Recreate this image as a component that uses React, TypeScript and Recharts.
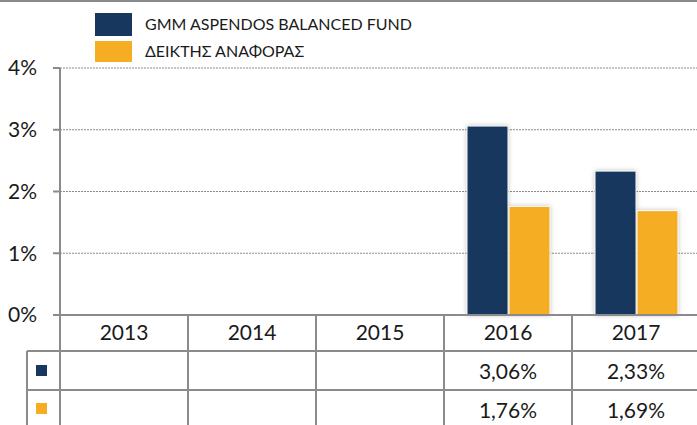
import React from 'react';
import { BarChart, Bar, XAxis, YAxis, CartesianGrid } from 'recharts';

const categories = ['2013', '2014', '2015', '2016', '2017'];
const fundValues: (number | null)[] = [null, null, null, 3.06, 2.33];
const benchmarkValues: (number | null)[] = [null, null, null, 1.76, 1.69];
const yTicks = [0, 1, 2, 3, 4];
const seriesNames = ['GMM ASPENDOS BALANCED FUND', 'ΔΕΙΚΤΗΣ ΑΝΑΦΟΡΑΣ'];
const seriesColors = ['#17375E', '#F5AD23'];

const data = categories.map((year, i) => ({
  year,
  fund: fundValues[i],
  bench: benchmarkValues[i],
}));

const W = 700;
const H = 425;
const LEFT = 60;
const TOP = 68;
const XAXIS_H = 110;
const PLOT_BOTTOM = H - XAXIS_H;
const BAND = (W - LEFT) / categories.length;
const GRAY = '#8b8b8b';
const FONT = 'Lato, "Open Sans", sans-serif';
const TEXT = '#1a1a1a';
const ROW1 = PLOT_BOTTOM + 36;
const ROW2 = PLOT_BOTTOM + 75;
const TABLE_LEFT = 27;

const fmt = (v: number | null) => (v == null ? '' : v.toFixed(2).replace('.', ',') + '%');

const TableTick = (props: any) => {
  const { x, payload, index } = props;
  const half = BAND / 2;
  const i = index ?? categories.indexOf(payload.value);
  const lineProps = { stroke: GRAY, strokeWidth: 2 };
  return (
    <g>
      <text x={x} y={PLOT_BOTTOM + 25} textAnchor="middle" fontSize={21} fontFamily={FONT} fill={TEXT}>
        {payload.value}
      </text>
      <text x={x} y={ROW1 + 28} textAnchor="middle" fontSize={21} fontFamily={FONT} fill={TEXT}>
        {fmt(fundValues[i])}
      </text>
      <text x={x} y={ROW2 + 28} textAnchor="middle" fontSize={21} fontFamily={FONT} fill={TEXT}>
        {fmt(benchmarkValues[i])}
      </text>
      <line x1={x + half} x2={x + half} y1={PLOT_BOTTOM} y2={H} {...lineProps} />
      <line x1={x - half} x2={x + half} y1={ROW1} y2={ROW1} {...lineProps} />
      <line x1={x - half} x2={x + half} y1={ROW2} y2={ROW2} {...lineProps} />
      {i === 0 && (
        <g>
          <line x1={x - half} x2={x - half} y1={PLOT_BOTTOM} y2={H} {...lineProps} />
          <line x1={TABLE_LEFT} x2={x - half} y1={ROW1} y2={ROW1} {...lineProps} />
          <line x1={TABLE_LEFT} x2={x - half} y1={ROW2} y2={ROW2} {...lineProps} />
          <line x1={TABLE_LEFT} x2={TABLE_LEFT} y1={ROW1} y2={H} {...lineProps} />
          <rect x={36} y={ROW1 + 14} width={11} height={11} fill={seriesColors[0]} />
          <rect x={36} y={ROW2 + 13} width={11} height={11} fill={seriesColors[1]} />
        </g>
      )}
    </g>
  );
};

export default function App() {
  return (
    <div style={{ position: 'absolute', left: 0, top: 0, width: 697, height: 425, overflow: 'hidden', background: '#fff' }}>
      <style>{`.recharts-bar-rectangle path { filter: drop-shadow(0px 0px 2px rgba(0,0,0,0.25)); }`}</style>
      <div style={{ position: 'absolute', left: 0, top: 0, width: 697, height: 2, background: GRAY }} />
      <BarChart width={W} height={H} data={data} margin={{ top: TOP, right: 0, left: 0, bottom: 0 }} barGap={1} barSize={41}>
        <CartesianGrid vertical={false} stroke={GRAY} strokeDasharray="2 1" strokeWidth={1.2} />
        <XAxis
          dataKey="year"
          height={XAXIS_H}
          interval={0}
          axisLine={{ stroke: GRAY, strokeWidth: 2 }}
          tickLine={false}
          tick={<TableTick />}
        />
        <YAxis
          width={LEFT}
          domain={[0, 4]}
          ticks={yTicks}
          tickFormatter={(v: number) => `${v}%`}
          axisLine={{ stroke: GRAY, strokeWidth: 2 }}
          tickLine={{ stroke: GRAY, strokeWidth: 2 }}
          tickSize={7}
          tickMargin={16}
          tick={{ fontSize: 21, fontFamily: FONT, fill: TEXT }}
        />
        <Bar dataKey="fund" name={seriesNames[0]} fill={seriesColors[0]} stroke="#ffffff" strokeWidth={1} isAnimationActive={false} />
        <Bar dataKey="bench" name={seriesNames[1]} fill={seriesColors[1]} stroke="#ffffff" strokeWidth={1} isAnimationActive={false} />
      </BarChart>
      {seriesNames.map((name, i) => (
        <div key={name} style={{ position: 'absolute', left: 95, top: i === 0 ? 13 : 41, height: i === 0 ? 23 : 21, display: 'flex', alignItems: 'center' }}>
          <div style={{ width: 37, height: '100%', background: seriesColors[i] }} />
          <div style={{ marginLeft: 13, marginTop: -3, fontSize: 16, fontFamily: FONT, color: TEXT, whiteSpace: 'nowrap' }}>{name}</div>
        </div>
      ))}
    </div>
  );
}
